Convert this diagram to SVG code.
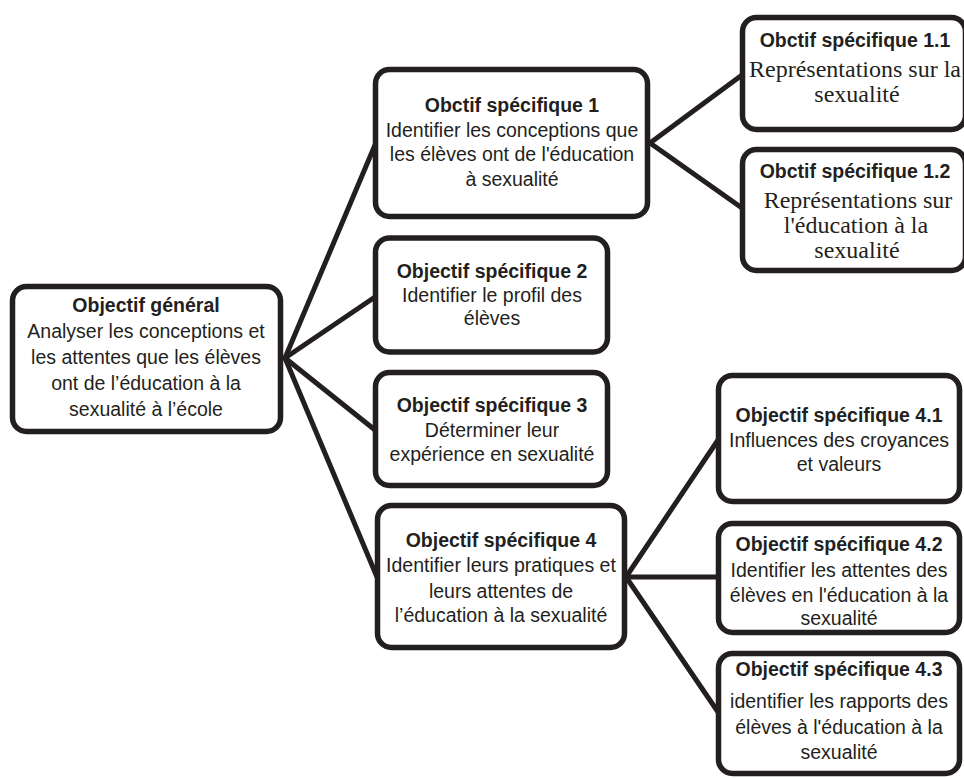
<svg xmlns="http://www.w3.org/2000/svg" width="964" height="778" viewBox="0 0 964 778">
<style>
  .box { fill: #ffffff; stroke: #231f20; stroke-width: 5.5; }
  .conn { stroke: #231f20; stroke-width: 5; stroke-linecap: round; fill: none; }
  text { fill: #231f20; text-anchor: middle; }
  .t { font-family: "Liberation Sans", Arial, sans-serif; font-size: 19.5px; font-weight: bold; }
  .s { font-family: "Liberation Sans", Arial, sans-serif; font-size: 19.5px; }
  .r { font-family: "Liberation Serif", "Times New Roman", serif; font-size: 24px; }
</style>
<rect width="964" height="778" fill="#ffffff"/>
<g id="connectors">
  <line class="conn" x1="285" y1="358" x2="375" y2="145"/>
  <line class="conn" x1="285" y1="358" x2="375" y2="297"/>
  <line class="conn" x1="285" y1="358" x2="375" y2="430"/>
  <line class="conn" x1="285" y1="358" x2="377" y2="577"/>
  <line class="conn" x1="650" y1="143" x2="742" y2="75"/>
  <line class="conn" x1="650" y1="143" x2="742" y2="208"/>
  <line class="conn" x1="626" y1="577" x2="718" y2="440"/>
  <line class="conn" x1="626" y1="577" x2="718" y2="577"/>
  <line class="conn" x1="626" y1="577" x2="718" y2="712"/>
</g>
<g id="root">
  <rect class="box" x="12.5" y="286.5" width="268" height="145" rx="14"/>
  <text class="t" x="146" y="312">Objectif général</text>
  <text class="s" x="146" y="338">Analyser les conceptions et</text>
  <text class="s" x="146" y="364">les attentes que les élèves</text>
  <text class="s" x="146" y="390">ont de l’éducation à la</text>
  <text class="s" x="146" y="416">sexualité à l’école</text>
</g>
<g id="os1">
  <rect class="box" x="375.5" y="69.5" width="272" height="147" rx="14"/>
  <text class="t" x="512" y="112">Obctif spécifique 1</text>
  <text class="s" x="512" y="137">Identifier les conceptions que</text>
  <text class="s" x="512" y="161">les élèves ont de l'éducation</text>
  <text class="s" x="512" y="186">à sexualité</text>
</g>
<g id="os2">
  <rect class="box" x="375.5" y="238" width="232" height="114" rx="14"/>
  <text class="t" x="492" y="278">Objectif spécifique 2</text>
  <text class="s" x="492" y="302">Identifier le profil des</text>
  <text class="s" x="492" y="325">élèves</text>
</g>
<g id="os3">
  <rect class="box" x="375.5" y="372.5" width="232" height="113" rx="14"/>
  <text class="t" x="492" y="412">Objectif spécifique 3</text>
  <text class="s" x="492" y="437">Déterminer leur</text>
  <text class="s" x="492" y="461">expérience en sexualité</text>
</g>
<g id="os4">
  <rect class="box" x="377.5" y="505.5" width="247" height="142" rx="14"/>
  <text class="t" x="501" y="547">Objectif spécifique 4</text>
  <text class="s" x="501" y="572">Identifier leurs pratiques et</text>
  <text class="s" x="501" y="598">leurs attentes de</text>
  <text class="s" x="501" y="622">l’éducation à la sexualité</text>
</g>
<g id="os11">
  <rect class="box" x="742.5" y="17.5" width="223" height="112" rx="14"/>
  <text class="t" x="855" y="47">Obctif spécifique 1.1</text>
  <text class="r" x="855" y="77">Représentations sur la</text>
  <text class="r" x="857" y="102">sexualité</text>
</g>
<g id="os12">
  <rect class="box" x="742.5" y="149.5" width="223" height="121" rx="14"/>
  <text class="t" x="855" y="178">Obctif spécifique 1.2</text>
  <text class="r" x="858" y="208">Représentations sur</text>
  <text class="r" x="856" y="233">l'éducation à la</text>
  <text class="r" x="857" y="258">sexualité</text>
</g>
<g id="os41">
  <rect class="box" x="718.5" y="375.5" width="241" height="126" rx="14"/>
  <text class="t" x="839" y="422">Objectif spécifique 4.1</text>
  <text class="s" x="839" y="447">Influences des croyances</text>
  <text class="s" x="839" y="471">et valeurs</text>
</g>
<g id="os42">
  <rect class="box" x="718.5" y="523.5" width="241" height="109" rx="14"/>
  <text class="t" x="839" y="551">Objectif spécifique 4.2</text>
  <text class="s" x="839" y="577">Identifier les attentes des</text>
  <text class="s" x="839" y="602">élèves en l'éducation à la</text>
  <text class="s" x="839" y="625">sexualité</text>
</g>
<g id="os43">
  <rect class="box" x="718.5" y="653.5" width="241" height="120" rx="14"/>
  <text class="t" x="839" y="676">Objectif spécifique 4.3</text>
  <text class="s" x="839" y="708">identifier les rapports des</text>
  <text class="s" x="839" y="734">élèves à l'éducation à la</text>
  <text class="s" x="839" y="759">sexualité</text>
</g>
</svg>
